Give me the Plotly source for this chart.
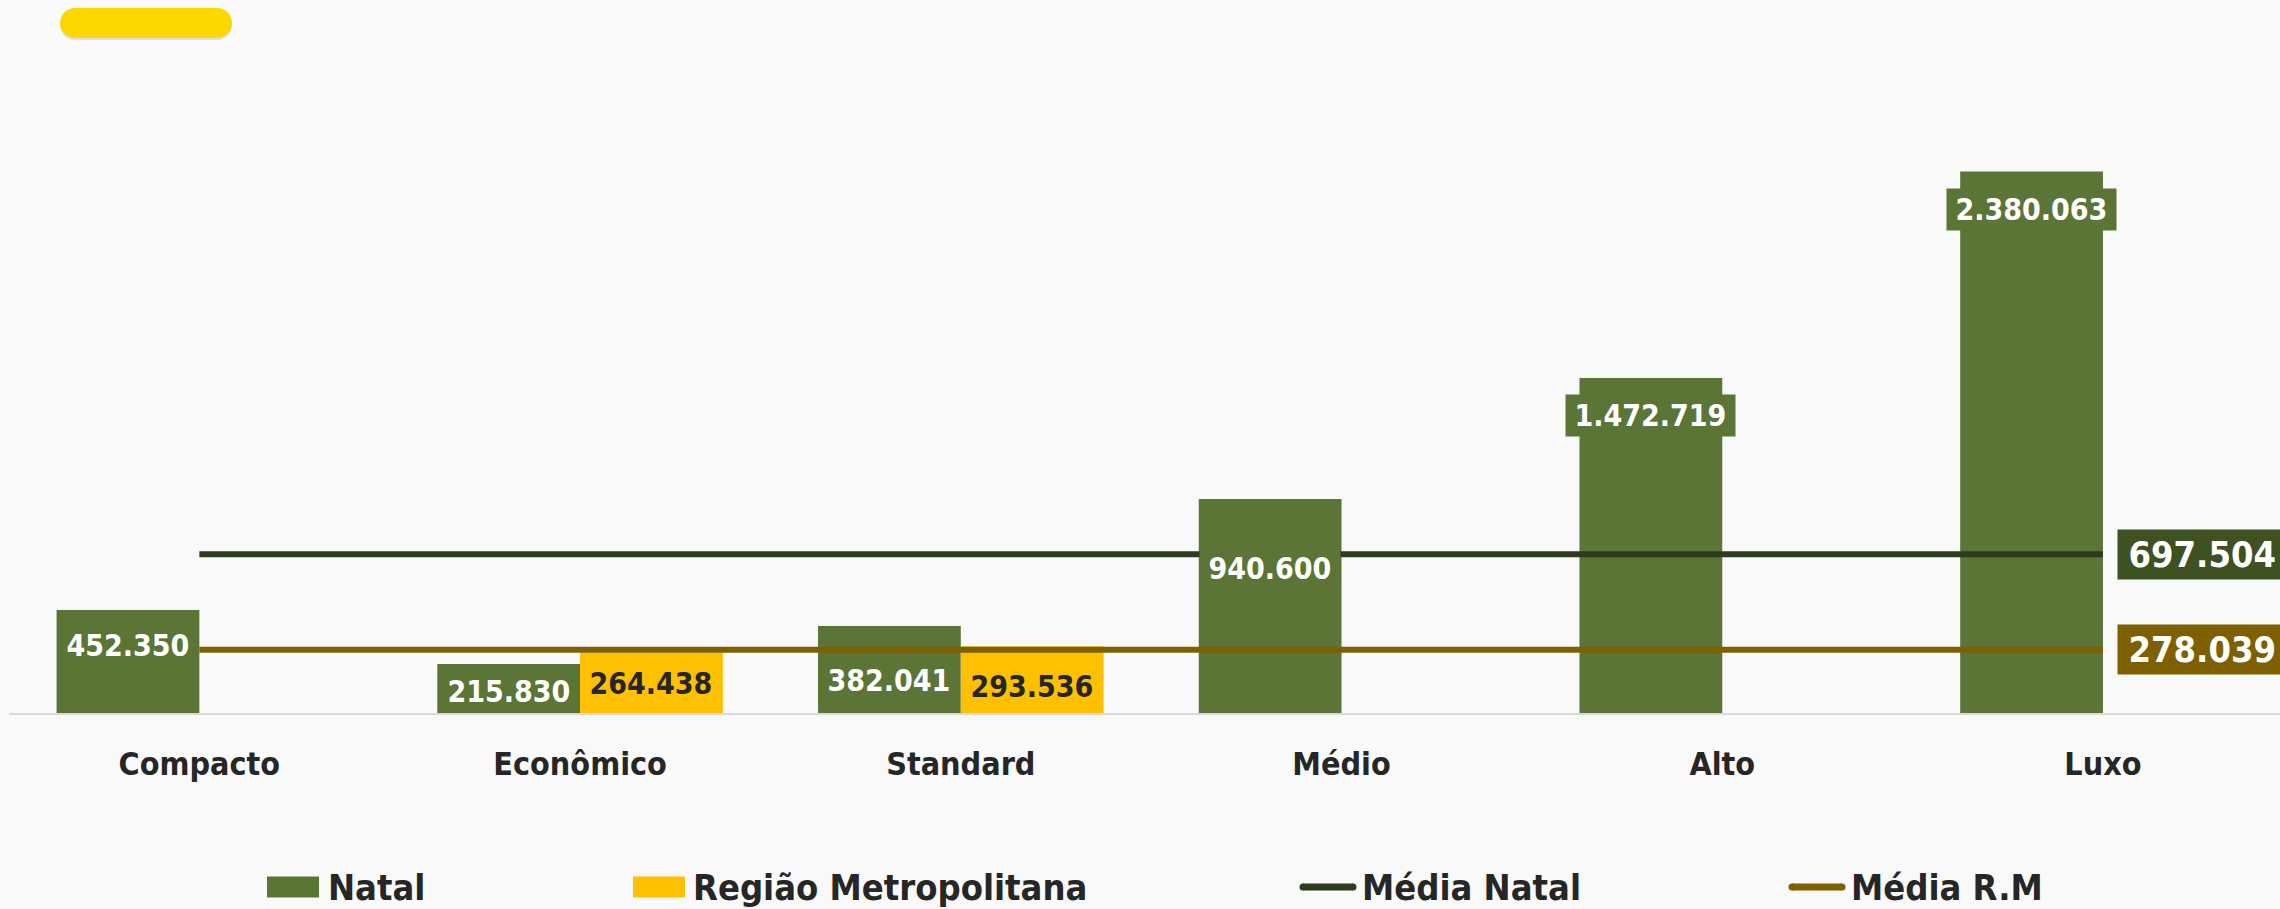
import plotly.graph_objects as go

# ---------------- data ----------------
categories = ["Compacto", "Econômico", "Standard", "Médio", "Alto", "Luxo"]
natal = [452350, 215830, 382041, 940600, 1472719, 2380063]
regiao = [None, 264438, 293536, None, None, None]
media_natal = 697504
media_rm = 278039
series_names = ["Natal", "Região Metropolitana", "Média Natal", "Média R.M"]

# ---------------- style ----------------
W, H = 2280, 909
L, R, T, B = 9, 0, 60, 196
BG = "#F9F9F9"
C_NATAL = "#5B7536"
C_RM = "#FFC000"
C_MN_LINE = "#2E3B1E"
C_MN_BOX = "#3D5220"
C_MR = "#7F6000"
TXT = "#262626"
FAM = "DejaVu Sans Condensed, DejaVu Sans, Verdana, sans-serif"
BARGAP = 0.25
YMAX = 2870000
natal_drop = [35, 28, 54, 70, 38, 38]   # label centre below bar top (px)
rm_drop = [0, 31, 40, 0, 0, 0]
AVG_BOX_LEFT = 2117
AVG_PAD = 4


def fmt(v):
    return f"{v:,}".replace(",", ".")


def px_x(x):
    return (x - L) / (W - L - R)


def px_y(y):
    return (H - B - y) / (H - T - B)


fig = go.Figure()
fig.add_trace(go.Bar(x=categories, y=natal, name=series_names[0],
                     marker=dict(color=C_NATAL, line=dict(width=0)), showlegend=False))
fig.add_trace(go.Bar(x=categories, y=regiao, name=series_names[1],
                     marker=dict(color=C_RM, line=dict(width=0)), showlegend=False))
fig.add_trace(go.Scatter(x=categories, y=[media_natal] * len(categories), mode="lines",
                         name=series_names[2], line=dict(color=C_MN_LINE, width=6),
                         showlegend=False))
fig.add_trace(go.Scatter(x=categories, y=[media_rm] * len(categories), mode="lines",
                         name=series_names[3], line=dict(color=C_MR, width=6),
                         showlegend=False))

bw = (1 - BARGAP) / 2
ann = []
TS = "\u2009"
for i, v in enumerate(natal):
    ann.append(dict(x=i - bw / 2, y=v, xref="x", yref="y", text=TS + fmt(v) + TS,
                    showarrow=False, yanchor="middle", yshift=-natal_drop[i],
                    bgcolor=C_NATAL, borderpad=3,
                    font=dict(family=FAM, size=30, color="#FFFFFF", weight="bold")))
for i, v in enumerate(regiao):
    if v is None:
        continue
    ann.append(dict(x=i + bw / 2, y=v, xref="x", yref="y", text=TS + fmt(v) + TS,
                    showarrow=False, yanchor="middle", yshift=-rm_drop[i],
                    bgcolor=C_RM, borderpad=3,
                    font=dict(family=FAM, size=30, color=TXT, weight="bold")))

# average value labels at right (box runs to the right edge of the figure)
for val, col in [(media_natal, C_MN_BOX), (media_rm, C_MR)]:
    ann.append(dict(x=px_x(AVG_BOX_LEFT), y=val, xref="paper", yref="y",
                    text=TS + fmt(val), showarrow=False, xanchor="left", align="left",
                    width=W - AVG_BOX_LEFT - 2 * AVG_PAD,
                    yanchor="middle", bgcolor=col, borderpad=AVG_PAD,
                    font=dict(family=FAM, size=36, color="#FFFFFF", weight="bold")))

# custom legend
shapes = []
leg_y = 887
leg_items = [
    ("rect", 267, 319, C_NATAL, 326, series_names[0]),
    ("rect", 633, 685, C_RM, 691, series_names[1]),
    ("line", 1300, 1356, C_MN_LINE, 1360, series_names[2]),
    ("line", 1789, 1845, C_MR, 1849, series_names[3]),
]
for kind, x0, x1, col, tx, name in leg_items:
    if kind == "rect":
        shapes.append(dict(type="rect", xref="paper", yref="paper",
                           x0=px_x(x0), x1=px_x(x1), y0=px_y(leg_y - 10.5), y1=px_y(leg_y + 10.5),
                           fillcolor=col, line=dict(width=0)))
    else:
        shapes.append(dict(type="line", xref="paper", yref="paper",
                           x0=px_x(x0 + 3), x1=px_x(x1 - 3), y0=px_y(leg_y), y1=px_y(leg_y),
                           line=dict(color=col, width=7)))
        for cx in (x0 + 3, x1 - 3):
            shapes.append(dict(type="circle", xref="paper", yref="paper",
                               xsizemode="pixel", ysizemode="pixel",
                               xanchor=px_x(cx), yanchor=px_y(leg_y),
                               x0=-3.5, x1=3.5, y0=-3.5, y1=3.5,
                               fillcolor=col, line=dict(width=0)))
    ann.append(dict(x=px_x(tx), y=px_y(leg_y), xref="paper", yref="paper", text=name,
                    showarrow=False, xanchor="left", yanchor="middle",
                    font=dict(family=FAM, size=36, color=TXT, weight="bold")))

# yellow pill at top-left
pill = ("M15,15 L157,15 C165.3,15 172,8.3 172,0 C172,-8.3 165.3,-15 157,-15 "
        "L15,-15 C6.7,-15 0,-8.3 0,0 C0,8.3 6.7,15 15,15 Z")
shapes.append(dict(type="path", xref="paper", yref="paper", xsizemode="pixel", ysizemode="pixel",
                   xanchor=px_x(60), yanchor=px_y(25), path=pill,
                   fillcolor="rgba(0,0,0,0.10)", line=dict(width=0)))
shapes.append(dict(type="path", xref="paper", yref="paper", xsizemode="pixel", ysizemode="pixel",
                   xanchor=px_x(60), yanchor=px_y(23), path=pill,
                   fillcolor="#FFD700", line=dict(width=0)))

fig.update_layout(
    width=W, height=H,
    margin=dict(l=L, r=R, t=T, b=B, pad=0),
    paper_bgcolor=BG, plot_bgcolor=BG,
    barmode="group", bargap=BARGAP, bargroupgap=0,
    showlegend=False,
    annotations=ann, shapes=shapes,
    xaxis=dict(type="category", range=[-0.5, 5.465], showgrid=False, zeroline=False,
               showline=True, linecolor="#D9D9D9", linewidth=2, ticks="",
               ticklabelstandoff=22,
               tickfont=dict(family=FAM, size=32, color=TXT, weight="bold"),
               fixedrange=True),
    yaxis=dict(range=[0, YMAX], showgrid=False, zeroline=False, showline=False,
               showticklabels=False, fixedrange=True),
)

fig.write_html("out.html")
